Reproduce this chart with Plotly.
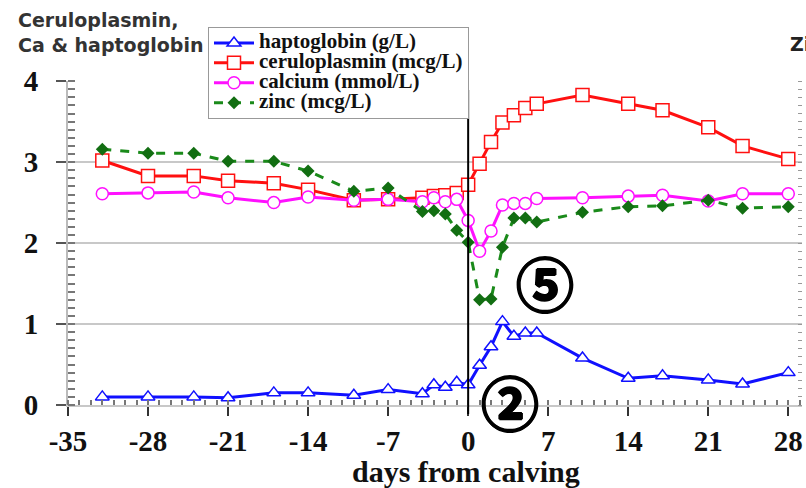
import plotly.graph_objects as go

# ---- data ----
hapto_days = [-32, -28, -24, -21, -17, -14, -10, -7, -4, -3, -2, -1, 0, 1, 2, 3, 4, 5, 6, 10, 14, 17, 21, 24, 28]
hapto_vals = [0.10, 0.10, 0.10, 0.09, 0.15, 0.15, 0.12, 0.19, 0.14, 0.25, 0.22, 0.28, 0.25, 0.49, 0.72, 1.03, 0.85, 0.89, 0.89, 0.58, 0.33, 0.36, 0.31, 0.26, 0.40]

cerulo_days = [-32, -28, -24, -21, -17, -14, -10, -7, -4, -3, -2, -1, 0, 1, 2, 3, 4, 5, 6, 10, 14, 17, 21, 24, 28]
cerulo_vals = [3.02, 2.83, 2.83, 2.77, 2.74, 2.66, 2.53, 2.54, 2.56, 2.58, 2.59, 2.62, 2.72, 2.98, 3.25, 3.49, 3.58, 3.67, 3.72, 3.83, 3.72, 3.64, 3.43, 3.20, 3.04]

calcium_days = [-32, -28, -24, -21, -17, -14, -10, -7, -4, -3, -2, -1, 0, 1, 2, 3, 4, 5, 6, 10, 14, 17, 21, 24, 28]
calcium_vals = [2.61, 2.62, 2.63, 2.56, 2.50, 2.57, 2.53, 2.54, 2.51, 2.56, 2.51, 2.54, 2.28, 1.90, 2.15, 2.47, 2.49, 2.49, 2.55, 2.56, 2.58, 2.59, 2.52, 2.61, 2.61]

zinc_days = [-32, -28, -24, -21, -17, -14, -10, -7, -4, -3, -2, -1, 0, 1, 2, 3, 4, 5, 6, 10, 14, 17, 21, 24, 28]
zinc_vals = [3.16, 3.11, 3.11, 3.01, 3.01, 2.89, 2.64, 2.68, 2.39, 2.40, 2.36, 2.16, 2.01, 1.30, 1.31, 1.95, 2.31, 2.31, 2.26, 2.38, 2.45, 2.46, 2.53, 2.43, 2.45]

x_ticks = [-35, -28, -21, -14, -7, 0, 7, 14, 21, 28]
y_ticks = [0, 1, 2, 3, 4]

series_names = ["haptoglobin (g/L)", "ceruloplasmin (mcg/L)", "calcium (mmol/L)", "zinc (mcg/L)"]

SERIF = "Liberation Serif, Times New Roman, serif"

def lname(s):
    return '<span style="font-size:21px">' + s + '</span>'

fig = go.Figure()

fig.add_trace(go.Scatter(
    x=hapto_days, y=hapto_vals, name=lname(series_names[0]), mode="lines+markers",
    line=dict(color="#1010ff", width=3),
    marker=dict(symbol="triangle-up", size=12, color="white", line=dict(color="#1010ff", width=1.5)),
    cliponaxis=False))
fig.add_trace(go.Scatter(
    x=cerulo_days, y=cerulo_vals, name=lname(series_names[1]), mode="lines+markers",
    line=dict(color="#ff1010", width=3),
    marker=dict(symbol="square", size=13, color="white", line=dict(color="#ff1010", width=1.5)),
    cliponaxis=False))
fig.add_trace(go.Scatter(
    x=calcium_days, y=calcium_vals, name=lname(series_names[2]), mode="lines+markers",
    line=dict(color="#ff10ff", width=3),
    marker=dict(symbol="circle", size=12, color="white", line=dict(color="#ff10ff", width=1.5)),
    cliponaxis=False))
fig.add_trace(go.Scatter(
    x=zinc_days, y=zinc_vals, name=lname(series_names[3]), mode="lines+markers",
    line=dict(color="#1a8a1a", width=3, dash="dash"),
    marker=dict(symbol="diamond", size=10, color="#126e12"),
    cliponaxis=False))

# invisible trace for right-side tick axis
fig.add_trace(go.Scatter(x=[0], y=[0], yaxis="y2", mode="markers",
                         marker=dict(opacity=0), showlegend=False, hoverinfo="skip"))

fig.update_layout(
    width=806, height=488,
    margin=dict(l=68, r=4, t=81, b=83),
    paper_bgcolor="white", plot_bgcolor="white",
    showlegend=True,
    legend=dict(
        x=(208 - 68) / 734, y=(405 - 27) / 324, xanchor="left", yanchor="top",
        bgcolor="white", bordercolor="#999999", borderwidth=1,
        font=dict(family=SERIF, size=13, color="#111111", weight="bold"),
        tracegroupgap=0, itemwidth=40,
    ),
    xaxis=dict(
        range=[-35, 29.2], tickvals=x_ticks, ticktext=[str(v) for v in x_ticks],
        tickfont=dict(family=SERIF, size=29, color="#111111", weight="bold"),
        ticks="outside", ticklen=9, tickwidth=2, tickcolor="#333333",
        ticklabelstandoff=0,
        minor=dict(dtick=1, tick0=0, ticks="inside", ticklen=5, tickwidth=1.5, tickcolor="#777777", showgrid=False),
        showline=True, linecolor="#c8c8c8", linewidth=2,
        showgrid=False, zeroline=False,
    ),
    yaxis=dict(
        range=[0, 4.002], tickvals=y_ticks,
        tickfont=dict(family=SERIF, size=29, color="#111111", weight="bold"),
        ticks="outside", ticklen=10, tickwidth=2, tickcolor="#555555",
        ticklabelstandoff=12,
        minor=dict(dtick=0.1, tick0=0, ticks="inside", ticklen=7, tickwidth=1.5, tickcolor="#777777", showgrid=False),
        showline=True, linecolor="#bbbbbb", linewidth=2,
        showgrid=True, gridcolor="#c8c8c8", gridwidth=2, zeroline=False,
    ),
    yaxis2=dict(
        range=[0, 4.002], overlaying="y", side="right", showticklabels=False,
        showgrid=False, zeroline=False, showline=False,
        tickvals=y_ticks, ticks="",
        minor=dict(dtick=0.1, tick0=0, ticks="inside", ticklen=4, tickwidth=1, tickcolor="#999999", showgrid=False),
    ),
)

# vertical calving line
fig.add_shape(type="line", xref="x", yref="paper", x0=0, x1=0,
              y0=(405 - 414) / 324, y1=(405 - 90) / 324,
              line=dict(color="black", width=2), layer="above")

SANS = "DejaVu Sans, Liberation Sans, Arial, sans-serif"
fig.add_annotation(text="Ceruloplasmin,<br>Ca & haptoglobin", xref="paper", yref="paper",
                   x=(16 - 68) / 734, y=(405 - 7) / 324, xanchor="left", yanchor="top",
                   align="left", showarrow=False,
                   font=dict(family=SANS, size=19, color="#333333", weight="bold"))
fig.add_annotation(text="Zinc", xref="paper", yref="paper",
                   x=(788 - 68) / 734, y=(405 - 44) / 324, xanchor="left", yanchor="middle",
                   showarrow=False,
                   font=dict(family=SANS, size=19, color="#222222", weight="bold"))

fig.add_annotation(text="days from calving", xref="paper", yref="paper",
                   x=(466 - 68) / 734, y=(405 - 471) / 324, xanchor="center", yanchor="middle",
                   showarrow=False,
                   font=dict(family=SERIF, size=30, color="#111111", weight="bold"))

CJK = "Noto Sans CJK JP, DejaVu Sans, sans-serif"
THICK = "1px 0 0 black, -1px 0 0 black, 0 1px 0 black, 0 -1px 0 black"
fig.add_annotation(text="⑤", xref="paper", yref="paper",
                   x=(545 - 68) / 734, y=(405 - 282) / 324, xanchor="center", yanchor="middle",
                   showarrow=False, font=dict(family=CJK, size=58, color="black", weight="bold", shadow=THICK))
fig.add_annotation(text="②", xref="paper", yref="paper",
                   x=(510 - 68) / 734, y=(405 - 401) / 324, xanchor="center", yanchor="middle",
                   showarrow=False, font=dict(family=CJK, size=58, color="black", weight="bold", shadow=THICK))

fig.write_html("out.html")
